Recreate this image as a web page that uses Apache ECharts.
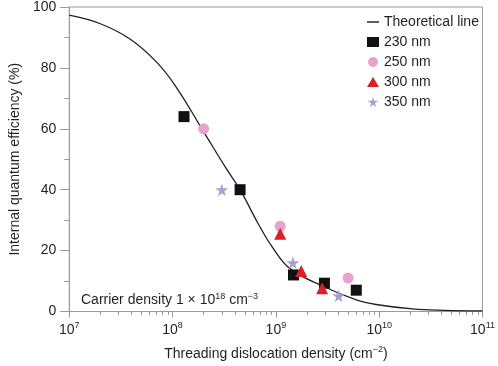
<!DOCTYPE html>
<html>
<head>
<meta charset="utf-8">
<script src="https://cdn.jsdelivr.net/npm/echarts@6/dist/echarts.min.js"></script>
<style>
  html, body { margin: 0; padding: 0; background: #fff; }
  #chart { width: 498px; height: 366px; }
</style>
</head>
<body>
<div id="chart"></div>
<script>
// Styling
const FONT = '"Liberation Sans", Arial, sans-serif'
const TEXT = '#231f20'
const AXIS = '#9a9a9a'
const COLOR_230 = '#111111'
const COLOR_250 = '#e7a3cb'
const COLOR_300 = '#dc1f26'
const COLOR_350 = '#a99fd4'
const STAR = 'path://M50,0 L61,35 L98,35 L68,57 L79,91 L50,70 L21,91 L32,57 L2,35 L39,35 Z'

// Axis ticks (x axis is log10 of density)
const decades = [7, 8, 9, 10, 11]
const minorMultipliers = [2, 3, 4, 5, 6, 7, 8, 9]

// Theoretical line
const theoryDensity = [1e7, 2e7, 3.9e7, 7e7, 1.08e8, 2e8, 3.3e8, 4.5e8, 6.7e8, 9.3e8, 1.38e9, 2.9e9, 6e9, 9.3e9, 2.1e10, 4.3e10, 1e11]
const theoryIqe = [97.3, 94.5, 89.4, 81.9, 73.8, 59, 47, 40, 29, 21, 14, 8.2, 3.8, 2.3, 0.85, 0.4, 0.2]

// Measured points
const nm230Density = [1.29e8, 4.5e8, 1.48e9, 2.95e9, 6.0e9]
const nm230Iqe = [64, 40, 12, 9.3, 7]
const nm250Density = [2.0e8, 1.1e9, 5.0e9]
const nm250Iqe = [60, 28, 11]
const nm300Density = [1.1e9, 1.76e9, 2.8e9]
const nm300Iqe = [25.5, 13.3, 7.6]
const nm350Density = [3.0e8, 1.46e9, 4.05e9]
const nm350Iqe = [40, 16, 5.2]

const toPoints = (xs, ys) => xs.map((x, i) => [Math.log10(x), ys[i]])

const minorTicks = []
decades.slice(0, -1).forEach((d) => {
  minorMultipliers.forEach((m) => minorTicks.push(Math.log10(m * Math.pow(10, d))))
})

const supRich = {
  b: { fontSize: 14, color: TEXT, fontFamily: FONT },
  sup: { fontSize: 9, color: TEXT, fontFamily: FONT, padding: [0, 0, 8, 0] },
}

const chart = echarts.init(document.getElementById('chart'))

chart.setOption({
  animation: false,
  textStyle: { fontFamily: FONT, color: TEXT },
  grid: {
    left: 68, right: 10, top: 6, bottom: 52,
    show: true, borderColor: AXIS, borderWidth: 1,
  },
  title: {
    left: 76, top: 287,
    text: '{t|Carrier density 1 × 10}{sup|18}{t| cm}{sup|−3}',
    textStyle: {
      fontWeight: 'normal',
      rich: {
        t: { fontSize: 14, color: TEXT, fontFamily: FONT, fontWeight: 'normal' },
        sup: { fontSize: 9, color: TEXT, fontFamily: FONT, fontWeight: 'normal', padding: [0, 0, 8, 0] },
      },
    },
  },
  legend: {
    orient: 'vertical',
    left: 362, top: 10,
    itemWidth: 12, itemHeight: 10, itemGap: 6,
    textStyle: { fontSize: 14, color: TEXT, fontFamily: FONT },
    data: [
      { name: 'Theoretical line', icon: 'path://M0,0 L10,0 L10,1.2 L0,1.2 Z' },
      { name: '230 nm', icon: 'rect' },
      { name: '250 nm', icon: 'circle' },
      { name: '300 nm', icon: 'triangle' },
      { name: '350 nm', icon: STAR },
    ],
  },
  xAxis: [
    {
      type: 'value', position: 'bottom',
      min: 7, max: 11, interval: 1,
      axisLine: { lineStyle: { color: AXIS, width: 1 } },
      axisTick: { length: 6, lineStyle: { color: AXIS } },
      splitLine: { show: false },
      axisLabel: {
        margin: 10,
        formatter: (v) => '{b|10}{sup|' + v + '}',
        rich: supRich,
      },
      name: 'Threading dislocation density (cm{sup|−2}{b|)}',
      nameLocation: 'middle', nameGap: 34,
      nameTextStyle: {
        fontSize: 14, color: TEXT, fontFamily: FONT,
        rich: supRich,
      },
    },
    {
      type: 'value', position: 'bottom',
      min: 7, max: 11,
      axisLine: { show: false },
      axisLabel: { show: false },
      splitLine: { show: false },
      axisTick: { length: 3.5, customValues: minorTicks, lineStyle: { color: AXIS } },
    },
  ],
  yAxis: {
    type: 'value',
    min: 0, max: 100, interval: 20,
    axisLine: { show: true, lineStyle: { color: AXIS } },
    axisTick: { show: true, length: 9, lineStyle: { color: AXIS } },
    minorTick: { show: true, splitNumber: 2, length: 5, lineStyle: { color: AXIS } },
    splitLine: { show: false },
    axisLabel: { fontSize: 14, color: TEXT, margin: 13 },
    name: 'Internal quantum efficiency (%)',
    nameLocation: 'middle', nameGap: 46,
    nameTextStyle: { fontSize: 14, color: TEXT },
  },
  series: [
    {
      name: 'Theoretical line', type: 'line',
      data: toPoints(theoryDensity, theoryIqe),
      smooth: 0.4, showSymbol: false,
      itemStyle: { color: TEXT },
      lineStyle: { color: TEXT, width: 1.3 },
      z: 1,
    },
    {
      name: '230 nm', type: 'scatter', symbol: 'rect', symbolSize: 11,
      data: toPoints(nm230Density, nm230Iqe),
      itemStyle: { color: COLOR_230, opacity: 1 }, z: 2,
    },
    {
      name: '250 nm', type: 'scatter', symbol: 'circle', symbolSize: 11,
      data: toPoints(nm250Density, nm250Iqe),
      itemStyle: { color: COLOR_250, opacity: 1 }, z: 3,
    },
    {
      name: '300 nm', type: 'scatter', symbol: 'triangle', symbolSize: 12,
      data: toPoints(nm300Density, nm300Iqe),
      itemStyle: { color: COLOR_300, opacity: 1 }, z: 4,
    },
    {
      name: '350 nm', type: 'scatter', symbol: STAR, symbolSize: 13,
      data: toPoints(nm350Density, nm350Iqe),
      itemStyle: { color: COLOR_350, opacity: 1 }, z: 5,
    },
  ],
})
</script>
</body>
</html>
